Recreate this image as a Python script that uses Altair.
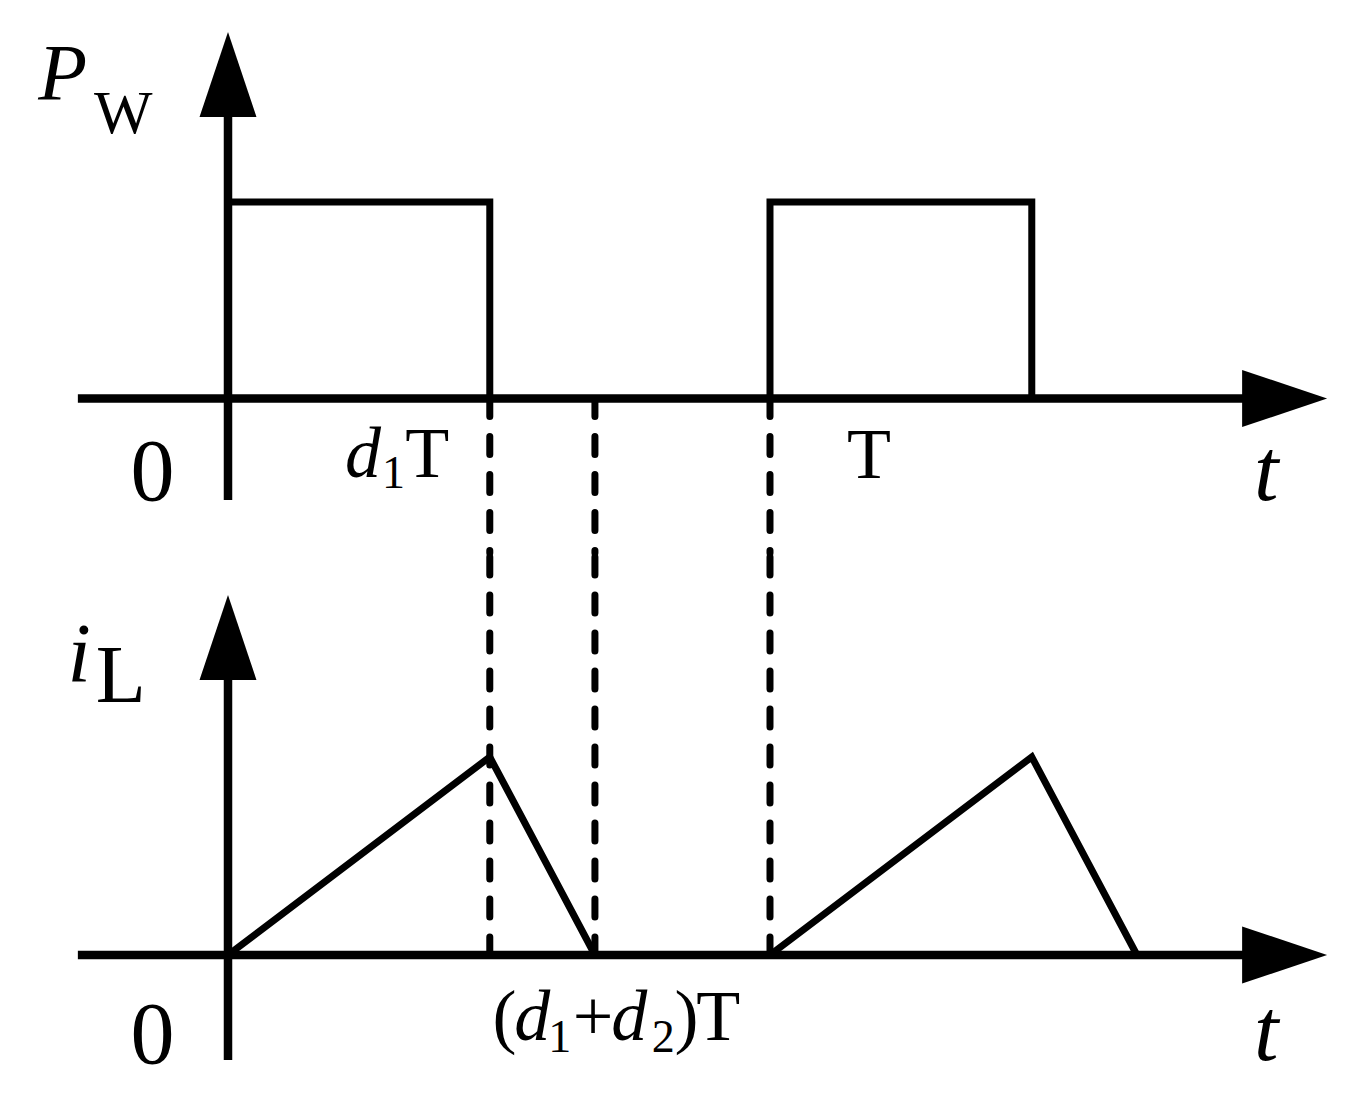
import altair as alt
import pandas as pd

# ---- data (time in units of the period T, amplitudes normalised) ----
pw_time = [0.0, 0.0, 0.483, 0.483, 1.0, 1.0, 1.483, 1.483]
pw_value = [0, 1, 1, 0, 0, 1, 1, 0]
pw_cycle = [1, 1, 1, 1, 2, 2, 2, 2]

il_time = [0.0, 0.483, 0.677, 1.0, 1.483, 1.677]
il_value = [0, 1, 0, 0, 1, 0]
il_cycle = [1, 1, 1, 2, 2, 2]

guide_times = [0.483, 0.677, 1.0]   # d1*T, (d1+d2)*T, T

# label pieces: text, t, value, style
top_label_text = ["P", "W", "0", "d", "1", "T", "T", "t"]
top_label_t = [-0.350, -0.247, -0.180, 0.216, 0.284, 0.327, 1.142, 1.893]
top_label_v = [1.519, 1.351, -0.517, -0.400, -0.456, -0.400, -0.405, -0.517]
top_label_style = ["it_P", "rm_W", "rm_big", "it_mid", "rm_sub", "rm_mid", "rm_mid", "it_big"]

bot_label_text = ["i", "L", "0", "(", "d", "1", "+", "d", "2", ")", "T", "t"]
bot_label_t = [-0.296, -0.244, -0.180, 0.488, 0.528, 0.591, 0.636, 0.707, 0.782, 0.824, 0.864, 1.893]
bot_label_v = [1.379, 1.278, -0.545, -0.429, -0.429, -0.492, -0.429, -0.429, -0.492, -0.429, -0.429, -0.530]
bot_label_style = ["it_i", "rm_L", "rm_big", "rm_mid", "it_mid", "rm_sub", "rm_mid", "it_mid", "rm_sub", "rm_mid", "rm_mid", "it_big"]

STYLES = {
    "it_P": (80, "italic"),
    "it_big": (88, "italic"),
    "it_i": (84, "italic"),
    "rm_big": (88, "normal"),
    "rm_W": (62, "normal"),
    "rm_L": (82, "normal"),
    "it_mid": (72, "italic"),
    "rm_mid": (72, "normal"),
    "rm_sub": (46, "normal"),
}

FONT = "Times New Roman, Liberation Serif, serif"
W = 1337
H_TOP = 545
H_BOT = 540
AXIS_W = 8.5
SIG_W = 7

X = alt.Scale(domain=[-0.4059, 2.0609], nice=False, zero=False)
Y_TOP = alt.Scale(domain=[-0.7863, 1.9873], nice=False, zero=False)
Y_BOT = alt.Scale(domain=[-0.697, 2.0303], nice=False, zero=False)

UP = "M0,-1L0.67,1L-0.67,1Z"
RIGHT = "M1,0L-1,-0.67L-1,0.67Z"


def panel(x_scale, y_scale, height, sig_df, axis_df, up_df, right_df, guide_df, labels_df):
    xs = alt.X("t:Q", scale=x_scale, axis=None)
    ys = alt.Y("v:Q", scale=y_scale, axis=None)

    axes = alt.Chart(axis_df).mark_rule(color="black", strokeWidth=AXIS_W, strokeCap="butt").encode(
        x=alt.X("t:Q", scale=x_scale, axis=None), x2="t2:Q",
        y=alt.Y("v:Q", scale=y_scale, axis=None), y2="v2:Q")

    up = alt.Chart(up_df).mark_point(shape=UP, filled=True, color="black", opacity=1,
                                     size=7225, strokeWidth=0).encode(x=xs, y=ys)
    right = alt.Chart(right_df).mark_point(shape=RIGHT, filled=True, color="black", opacity=1,
                                           size=7225, strokeWidth=0).encode(x=xs, y=ys)

    guides = alt.Chart(guide_df).mark_rule(color="black", strokeWidth=7, strokeDash=[18, 20],
                                           strokeCap="round").encode(
        x=alt.X("t:Q", scale=x_scale, axis=None),
        y=alt.Y("v:Q", scale=y_scale, axis=None), y2="v2:Q")

    sig = alt.Chart(sig_df).mark_line(color="black", strokeWidth=SIG_W, strokeJoin="miter",
                                      interpolate="linear").encode(
        x=xs, y=ys, detail="cycle:N", order="i:Q")

    layers = [axes, guides, sig, up, right]
    for style, (size, fstyle) in STYLES.items():
        sub = labels_df[labels_df["style"] == style]
        if len(sub) == 0:
            continue
        layers.append(alt.Chart(sub).mark_text(
            font=FONT, fontSize=size, fontStyle=fstyle, align="left", baseline="alphabetic",
            color="black").encode(x=xs, y=ys, text="text:N"))
    return alt.layer(*layers).properties(width=W, height=height)


top_sig = pd.DataFrame({"t": pw_time, "v": pw_value, "cycle": pw_cycle,
                        "i": list(range(len(pw_time)))})
bot_sig = pd.DataFrame({"t": il_time, "v": il_value, "cycle": il_cycle,
                        "i": list(range(len(il_time)))})

top_axes = pd.DataFrame({"t": [-0.277, 0.0], "t2": [1.9, 0.0],
                         "v": [0.0, -0.5165], "v2": [0.0, 1.5]})
bot_axes = pd.DataFrame({"t": [-0.277, 0.0], "t2": [1.9, 0.0],
                         "v": [0.0, -0.530], "v2": [0.0, 1.45]})

top_up = pd.DataFrame({"t": [0.0], "v": [1.649]})
bot_up = pd.DataFrame({"t": [0.0], "v": [1.6035]})
right_arrow = pd.DataFrame({"t": [1.9495], "v": [0.0]})

top_guides = pd.DataFrame({"t": guide_times, "v": [0.0] * 3, "v2": [-0.7863] * 3})
bot_guides = pd.DataFrame({"t": guide_times, "v": [0.0, 0.0, 0.0], "v2": [2.0303] * 3})

top_labels = pd.DataFrame({"text": top_label_text, "t": top_label_t, "v": top_label_v,
                           "style": top_label_style})
bot_labels = pd.DataFrame({"text": bot_label_text, "t": bot_label_t, "v": bot_label_v,
                           "style": bot_label_style})

top = panel(X, Y_TOP, H_TOP, top_sig, top_axes, top_up, right_arrow, top_guides, top_labels)
bot = panel(X, Y_BOT, H_BOT, bot_sig, bot_axes, bot_up, right_arrow, bot_guides, bot_labels)

chart = alt.vconcat(top, bot, spacing=0, bounds="flush").properties(
    padding=0, background="white"
).configure_view(stroke=None)

chart.save("out.html", embed_options={"renderer": "svg", "actions": False})
